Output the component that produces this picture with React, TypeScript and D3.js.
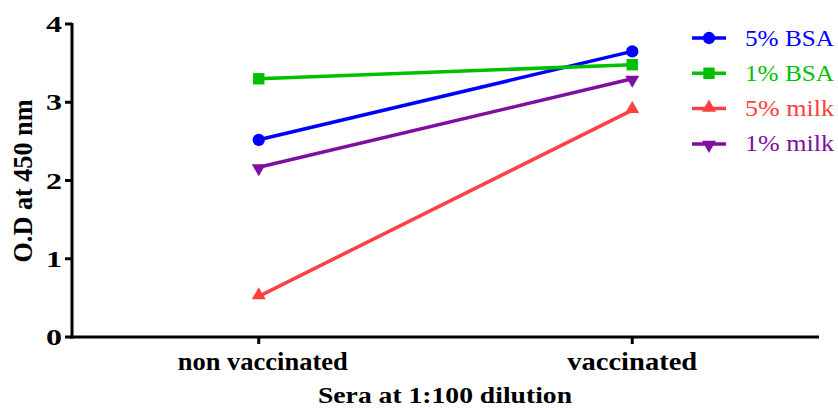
import React from "react";
import * as d3 from "d3";

const categories = ["non vaccinated", "vaccinated"];
const seriesNames = ["5% BSA", "1% BSA", "5% milk", "1% milk"];
const bsa5 = [2.52, 3.65];
const bsa1 = [3.3, 3.48];
const milk5 = [0.52, 2.9];
const milk1 = [2.17, 3.3];
const yTicks = [0, 1, 2, 3, 4];
const colors = ["#0000FF", "#00C000", "#FF4040", "#7F0F9F"];
const symbols = [d3.symbolCircle, d3.symbolSquare, d3.symbolTriangle, d3.symbolTriangle];

export default function App() {
  const W = 838, H = 409;
  const x0 = 72, x1 = 819, yTop = 24, yBot = 337;
  const x = d3.scalePoint<string>().domain(categories).range([x0, x1]).padding(0.5);
  const y = d3.scaleLinear().domain([0, 4]).range([yBot, yTop]);
  const allSeries = [bsa5, bsa1, milk5, milk1];
  const line = d3.line<number>().x((_, i) => x(categories[i])!).y((d) => y(d));
  const sizes = [120, 130, 85, 85];
  const marker = (i: number, cx: number, cy: number, key: string) => {
    const path = d3.symbol().type(symbols[i]).size(sizes[i])()!;
    const rot = i === 3 ? 180 : 0;
    const dy = i === 2 ? -1 : i === 3 ? 1 : 0;
    return (
      <path key={key} d={path} fill={colors[i]} transform={`translate(${cx},${cy + dy}) rotate(${rot})`} />
    );
  };
  const font = '"Liberation Serif", "DejaVu Serif", serif';
  const catLen = [170, 130];
  const catShift = [4, 0];
  return (
    <svg width={W} height={H} style={{ position: "absolute", left: 0, top: 0, fontFamily: font }}>
      {/* axes */}
      <line x1={x0} x2={x0} y1={yTop - 1} y2={yBot + 1.5} stroke="#000" strokeWidth={3} />
      <line x1={x0 - 1.5} x2={x1} y1={yBot} y2={yBot} stroke="#000" strokeWidth={3} />
      {yTicks.map((t) => (
        <g key={t}>
          <line x1={x0 - 7} x2={x0} y1={y(t)} y2={y(t)} stroke="#000" strokeWidth={3} />
          <text x={x0 - 10} y={y(t) + 8} textAnchor="end" textLength={16} lengthAdjust="spacingAndGlyphs" style={{ fontFamily: font, fontSize: 23, fontWeight: "bold" }}>
            {t}
          </text>
        </g>
      ))}
      {categories.map((c, i) => (
        <g key={c}>
          <line x1={x(c)} x2={x(c)} y1={yBot} y2={yBot + 7} stroke="#000" strokeWidth={3} />
          <text x={x(c)! + catShift[i]} y={370} textAnchor="middle" textLength={catLen[i]} lengthAdjust="spacingAndGlyphs" style={{ fontFamily: font, fontSize: 25, fontWeight: "bold" }}>
            {c}
          </text>
        </g>
      ))}
      <text x={445} y={403} textAnchor="middle" textLength={254} lengthAdjust="spacingAndGlyphs" style={{ fontFamily: font, fontSize: 23, fontWeight: "bold" }}>
        Sera at 1:100 dilution
      </text>
      <text transform={`translate(32,181) rotate(-90)`} textAnchor="middle" textLength={163} lengthAdjust="spacingAndGlyphs" style={{ fontFamily: font, fontSize: 28, fontWeight: "bold" }}>
        O.D at 450 nm
      </text>
      {/* series */}
      {allSeries.map((s, i) => (
        <g key={i}>
          <path d={line(s)!} fill="none" stroke={colors[i]} strokeWidth={3.5} />
          {s.map((v, j) => marker(i, x(categories[j])!, y(v), `${i}-${j}`))}
        </g>
      ))}
      {/* legend */}
      {seriesNames.map((n, i) => {
        const ly = 38 + i * 35.3;
        return (
          <g key={n}>
            <line x1={692} x2={726} y1={ly} y2={ly} stroke={colors[i]} strokeWidth={3.5} />
            {marker(i, 709, ly, `l${i}`)}
            <text x={745} y={ly + 7.5} fill={colors[i]} textLength={89} lengthAdjust="spacingAndGlyphs" style={{ fontFamily: font, fontSize: 23 }}>
              {n}
            </text>
          </g>
        );
      })}
    </svg>
  );
}
